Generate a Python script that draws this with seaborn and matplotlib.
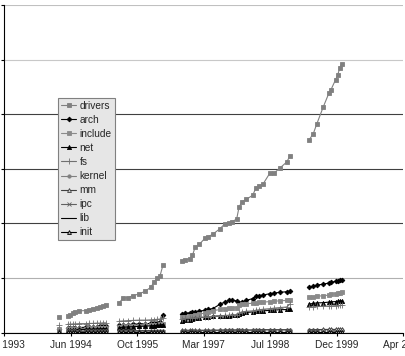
import matplotlib
matplotlib.use("Agg")
import matplotlib.pyplot as plt
import matplotlib.dates as mdates
from matplotlib.lines import Line2D
import seaborn as sns
import pandas as pd

# kernel release dates: 1.0, then the 1.1.x, 1.3.x, 2.1.x and 2.3.x dev trees
release_dates = [
    "1994-03-16",
    "1994-05-23", "1994-06-09", "1994-06-29", "1994-07-17", "1994-08-13", "1994-10-07",
    "1994-11-01", "1994-11-27", "1994-12-27", "1995-01-21", "1995-02-14", "1995-03-07",
    "1995-06-13", "1995-07-15", "1995-08-17", "1995-09-28", "1995-11-12", "1995-12-27",
    "1996-02-06", "1996-03-02", "1996-03-27", "1996-04-16", "1996-05-08",
    "1996-09-27", "1996-10-22", "1996-11-28", "1996-12-16", "1997-01-05", "1997-02-05",
    "1997-03-20", "1997-04-14", "1997-05-17", "1997-07-11", "1997-08-18", "1997-09-19",
    "1997-10-09", "1997-11-14", "1997-12-01", "1997-12-21", "1998-01-23", "1998-03-14",
    "1998-04-08", "1998-05-03", "1998-06-02", "1998-07-22", "1998-08-23", "1998-10-05",
    "1998-11-25", "1998-12-19",
    "1999-05-11", "1999-06-13", "1999-07-08", "1999-08-27", "1999-10-09", "1999-10-22",
    "1999-11-28", "1999-12-13", "1999-12-30", "2000-01-12",
]
release_tree = ["1.0"] + ["1.1"] * 12 + ["1.3"] * 11 + ["2.1"] * 26 + ["2.3"] * 10

# lines of code per subsystem, thousands
drivers = [56,
           60, 65, 71, 75, 80, 81, 84, 88, 92, 95, 98, 100,
           109, 127, 128, 136, 142, 152, 166, 185, 199, 208, 247,
           264, 267, 271, 283, 313, 323, 346, 352, 360, 381, 399, 403, 405, 417, 459, 478,
           488, 503, 531, 536, 546, 585, 585, 603, 625, 647,
           705, 729, 763, 827, 878, 888, 927, 943, 971, 984]
arch = [15,
        16, 17, 17, 18, 19, 20, 21, 22, 22, 23, 24, 25,
        27, 29, 30, 31, 32, 33, 34, 36, 37, 39, 63,
        69, 71, 73, 75, 77, 79, 82, 85, 88, 104, 113, 118, 118, 117, 108, 112,
        118, 125, 133, 136, 138, 143, 145, 148, 150, 152,
        166, 170, 174, 178, 182, 184, 188, 190, 192, 193]
include = [12,
           13, 13, 14, 14, 15, 15, 16, 16, 17, 17, 18, 18,
           22, 23, 24, 25, 26, 27, 28, 29, 30, 31, 33,
           56, 58, 60, 62, 66, 68, 72, 76, 80, 85, 88, 90, 91, 92, 100, 104,
           106, 108, 110, 111, 112, 114, 115, 117, 118, 120,
           130, 132, 134, 135, 138, 140, 143, 145, 147, 148]
net = [8,
       10, 10, 11, 11, 12, 12, 13, 13, 14, 14, 15, 15,
       19, 20, 21, 22, 23, 24, 25, 26, 27, 28, 30,
       44, 46, 48, 50, 52, 54, 57, 58, 60, 61, 62, 62, 63, 64, 70, 73,
       74, 76, 78, 79, 80, 82, 83, 84, 85, 87,
       105, 107, 109, 110, 112, 113, 114, 115, 116, 117]
fs = [30,
      31, 31, 32, 32, 33, 33, 34, 34, 35, 35, 36, 36,
      42, 43, 44, 45, 46, 46, 47, 48, 49, 50, 52,
      50, 52, 53, 54, 55, 56, 58, 59, 60, 62, 63, 64, 65, 66, 72, 76,
      78, 80, 82, 84, 86, 88, 90, 92, 94, 105,
      94, 95, 96, 97, 98, 98, 99, 100, 100, 101]
kernel = [5,
          5, 5, 5, 5, 5, 5, 6, 6, 6, 6, 6, 6,
          7, 7, 7, 7, 7, 7, 7, 8, 8, 8, 8,
          8, 8, 8, 8, 8, 8, 8, 8, 9, 9, 9, 9, 9, 9, 9, 9,
          9, 9, 9, 9, 10, 10, 10, 10, 10, 10,
          10, 10, 10, 10, 10, 10, 11, 11, 11, 11]
mm = [6,
      6, 6, 6, 6, 6, 6, 6, 6, 6, 6, 7, 7,
      7, 7, 7, 7, 7, 8, 8, 8, 8, 8, 8,
      9, 9, 9, 9, 9, 9, 9, 9, 9, 9, 10, 10, 10, 10, 10, 10,
      10, 10, 10, 11, 11, 11, 11, 11, 11, 11,
      11, 11, 11, 12, 12, 12, 12, 12, 12, 12]
ipc = [2,
       2, 2, 2, 2, 2, 2, 2, 2, 2, 2, 2, 2,
       2, 2, 2, 2, 2, 2, 3, 3, 3, 3, 3,
       3, 3, 3, 3, 3, 3, 3, 3, 3, 3, 3, 3, 3, 3, 3, 3,
       3, 3, 3, 3, 3, 3, 3, 3, 3, 3,
       3, 3, 3, 3, 3, 3, 3, 3, 3, 3]
lib = [1,
       1, 1, 1, 1, 1, 1, 1, 1, 1, 1, 1, 1,
       1, 1, 1, 1, 1, 1, 1, 1, 1, 1, 1,
       2, 2, 2, 2, 2, 2, 2, 2, 2, 2, 2, 2, 2, 2, 2, 2,
       2, 2, 2, 2, 2, 2, 2, 2, 2, 2,
       2, 2, 2, 2, 2, 2, 2, 2, 2, 2]
init = [1,
        1, 1, 1, 1, 1, 1, 1, 1, 1, 1, 1, 1,
        1, 1, 1, 1, 1, 1, 1, 1, 1, 1, 1,
        1, 1, 1, 1, 1, 1, 1, 1, 1, 1, 1, 1, 1, 1, 1, 1,
        1, 1, 1, 1, 1, 1, 1, 1, 1, 1,
        1, 1, 1, 1, 1, 1, 1, 1, 1, 1]

subsystems = ["drivers", "arch", "include", "net", "fs", "kernel", "mm", "ipc", "lib", "init"]
values = [drivers, arch, include, net, fs, kernel, mm, ipc, lib, init]

# (color, marker, markersize, marker face)
styles = {
    "drivers": ("#808080", "s", 3.0, "#808080"),
    "arch": ("#000000", "D", 2.4, "#000000"),
    "include": ("#8a8a8a", "s", 2.4, "#8a8a8a"),
    "net": ("#000000", "^", 3.0, "#000000"),
    "fs": ("#707070", "+", 4.0, "#707070"),
    "kernel": ("#808080", "o", 2.4, "#808080"),
    "mm": ("#404040", "^", 2.8, "#d0d0d0"),
    "ipc": ("#606060", "x", 3.0, "#606060"),
    "lib": ("#000000", "", 0, "#000000"),
    "init": ("#000000", "^", 2.8, "#b0b0b0"),
}

rows = []
for name, vals in zip(subsystems, values):
    for d, tree, v in zip(release_dates, release_tree, vals):
        rows.append({"date": pd.Timestamp(d), "tree": tree, "subsystem": name, "kloc": v})
df = pd.DataFrame(rows)

sns.set_style("white")
plt.rcParams["font.family"] = ["Liberation Sans", "DejaVu Sans"]

fig = plt.figure(figsize=(4.06, 3.56), dpi=100)
ax = fig.add_axes([4.3 / 406, (356 - 332.7) / 356, (403.2 - 4.3) / 406, (332.7 - 5) / 356])

for name in subsystems:
    color, marker, ms, face = styles[name]
    sns.lineplot(data=df[df.subsystem == name], x="date", y="kloc", units="tree",
                 estimator=None, color=color, marker=marker if marker else None,
                 markersize=ms, markerfacecolor=face, markeredgecolor=color,
                 markeredgewidth=0.6, linewidth=0.8, legend=False, ax=ax)

# date axis with a tick every 500 days
start = pd.Timestamp("1993-01-31")
ticks = [start + pd.Timedelta(days=500 * k) for k in range(7)]
ax.set_xticks([mdates.date2num(t) for t in ticks])
ax.xaxis.set_major_formatter(mdates.DateFormatter("%b %Y"))
ax.set_xlim(mdates.date2num(ticks[0]), mdates.date2num(ticks[-1]))
ax.set_ylim(0, 1200)
ax.set_yticks(range(0, 1201, 200))
ax.set_xlabel("")
ax.set_ylabel("")

ax.set_axisbelow(True)
ax.yaxis.grid(True, linewidth=0.8)
grid_colors = ["#000000", "#b0b0b0", "#404040", "#404040", "#404040", "#c8c8c8", "#c0c0c0"]
for tick, c in zip(ax.yaxis.get_major_ticks(), grid_colors):
    tick.gridline.set_color(c)

ax.tick_params(axis="y", left=True, length=2.5, width=0.8, color="black", labelleft=False)
ax.tick_params(axis="x", bottom=True, length=2.5, width=0.8, color="black",
               labelsize=7.3, pad=3)
for side in ["top", "right"]:
    ax.spines[side].set_visible(False)
for side in ["left", "bottom"]:
    ax.spines[side].set_color("black")
    ax.spines[side].set_linewidth(0.8)

handles = []
for name in subsystems:
    color, marker, ms, face = styles[name]
    handles.append(Line2D([], [], color=color, marker=marker if marker else None,
                          markersize=ms, markerfacecolor=face, markeredgecolor=color,
                          markeredgewidth=0.6, linewidth=0.8, label=name))
leg = ax.legend(handles=handles, loc="upper left", bbox_to_anchor=(0.135, 0.717),
                borderaxespad=0, fontsize=7.3, handlelength=1.5, handletextpad=0.3,
                labelspacing=0.40, borderpad=0.3, fancybox=False, framealpha=1)
leg.get_frame().set_facecolor("#e6e6e6")
leg.get_frame().set_edgecolor("#808080")
leg.get_frame().set_linewidth(0.8)

fig.savefig("out.png", dpi=100)
